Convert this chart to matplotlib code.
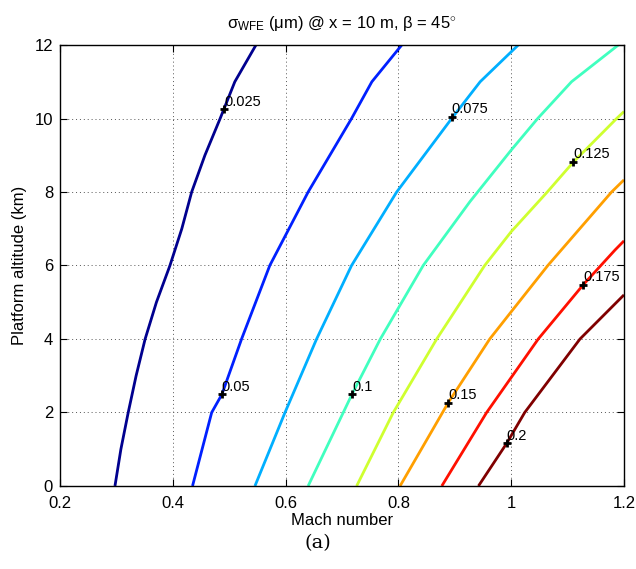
import matplotlib
matplotlib.use("Agg")
import matplotlib.pyplot as plt
import numpy as np

plt.rcParams['font.family'] = ['Liberation Sans', 'DejaVu Sans']
plt.rcParams['mathtext.fontset'] = 'custom'
plt.rcParams['mathtext.rm'] = 'Liberation Sans'
plt.rcParams['mathtext.it'] = 'Liberation Sans:italic'

levels = [0.025, 0.05, 0.075, 0.1, 0.125, 0.15, 0.175, 0.2]
level_labels = ['0.025', '0.05', '0.075', '0.1', '0.125', '0.15', '0.175', '0.2']

# contour lines: (Mach, altitude km)
mach_025 = [0.2975, 0.308, 0.321, 0.335, 0.351, 0.371, 0.395, 0.416, 0.4335, 0.457, 0.484, 0.510, 0.5475]
alt_025 = [0.0, 1.0, 2.0, 3.0, 4.0, 5.0, 6.0, 7.0, 8.0, 9.0, 10.0, 11.0, 12.0]
mach_050 = [0.435, 0.469, 0.487, 0.522, 0.572, 0.640, 0.717, 0.753, 0.806]
alt_050 = [0.0, 2.0, 2.49, 4.0, 6.0, 8.0, 10.0, 11.0, 12.0]
mach_075 = [0.5457, 0.599, 0.655, 0.717, 0.797, 0.8945, 0.945, 1.0126]
alt_075 = [0.0, 2.0, 4.0, 6.0, 8.0, 10.0, 11.0, 12.0]
mach_100 = [0.640, 0.7176, 0.768, 0.844, 0.927, 1.000, 1.047, 1.107, 1.190]
alt_100 = [0.0, 2.49, 4.0, 6.0, 7.74, 9.14, 10.0, 11.0, 12.0]
mach_125 = [0.726, 0.791, 0.868, 0.953, 1.000, 1.064, 1.110, 1.187, 1.200]
alt_125 = [0.0, 2.0, 4.0, 6.0, 6.92, 8.0, 8.81, 10.0, 10.19]
mach_150 = [0.803, 0.8885, 0.962, 1.000, 1.065, 1.178, 1.200]
alt_150 = [0.0, 2.27, 4.0, 4.74, 6.0, 8.0, 8.33]
mach_175 = [0.877, 0.9565, 1.048, 1.128, 1.184, 1.200]
alt_175 = [0.0, 2.0, 4.0, 5.48, 6.42, 6.67]
mach_200 = [0.942, 0.992, 1.024, 1.122, 1.200]
alt_200 = [0.0, 1.16, 2.0, 4.0, 5.2]

curves_mach = [mach_025, mach_050, mach_075, mach_100, mach_125, mach_150, mach_175, mach_200]
curves_alt = [alt_025, alt_050, alt_075, alt_100, alt_125, alt_150, alt_175, alt_200]

# label positions
label_mach = [0.4914, 0.4867, 0.8945, 0.7176, 1.110, 0.8885, 1.128, 0.992]
label_alt = [10.25, 2.49, 10.05, 2.49, 8.81, 2.27, 5.48, 1.16]

colors = ['#00008F', '#0020FF', '#00AFFF', '#40FFBF', '#CFFF30', '#FF9F00', '#FF1000', '#800000']

fig = plt.figure(figsize=(6.36, 5.69), dpi=100)
ax = fig.add_axes([0.0943, 0.1459, 0.8868, 0.7750])

for mx, al, c in zip(curves_mach, curves_alt, colors):
    ax.plot(mx, al, color=c, lw=2.0, solid_capstyle='butt', solid_joinstyle='round')

for lm, la, txt in zip(label_mach, label_alt, level_labels):
    ax.plot(lm, la, marker='+', color='black', ms=6, mew=2.0)
    ax.text(lm, la + 0.02, txt, fontsize=10.5, ha='left', va='bottom', color='black')

ax.set_xlim(0.2, 1.2)
ax.set_ylim(0, 12)
ax.set_xticks([0.2, 0.4, 0.6, 0.8, 1.0, 1.2])
ax.set_xticklabels(['0.2', '0.4', '0.6', '0.8', '1', '1.2'])
ax.set_yticks([0, 2, 4, 6, 8, 10, 12])
ax.tick_params(direction='in', top=True, right=True, labelsize=12, length=5, width=0.8)
ax.tick_params(axis='x', pad=7)
ax.tick_params(axis='y', pad=5)
ax.grid(True, linestyle=(0, (1, 3)), color='#555555', lw=0.7)
for s in ax.spines.values():
    s.set_linewidth(1.0)

ax.set_xlabel('Mach number', fontsize=12, labelpad=2)
ax.set_ylabel('Platform altitude (km)', fontsize=12, labelpad=5)
ax.set_title('σ$_{\\mathrm{WFE}}$ (μm) @ x = 10 m, β = 45$^{\\circ}$', fontsize=12, pad=12)

fig.text(0.5, 0.045, '(a)', fontsize=14, ha='center', va='center', family='DejaVu Serif')

fig.savefig('out.png', dpi=100)
